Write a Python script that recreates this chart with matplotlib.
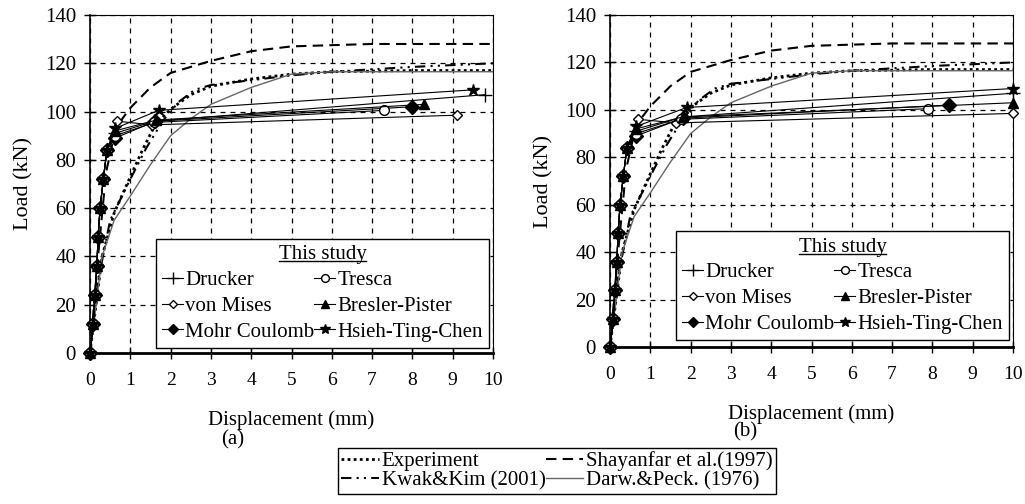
import matplotlib
matplotlib.use('Agg')
import matplotlib.pyplot as plt
from matplotlib.lines import Line2D

plt.rcParams['font.family'] = ['Liberation Serif', 'DejaVu Serif']

# Reference curves (same in both panels)
EXP_DISP = [0, 0.3, 0.6, 1.0, 1.3, 1.6, 2.0, 2.5, 3.0, 4.0, 5.0, 6.0, 8.0, 10]
EXP_LOAD = [0, 40, 58, 73, 84, 94, 101, 107, 110.5, 113.5, 115.5, 116.5, 117, 117]

SHAY_DISP = [0, 0.2, 0.4, 0.6, 0.8, 1.0, 1.5, 2.0, 3.0, 4.0, 5.0, 7.0, 10]
SHAY_LOAD = [0, 40, 75, 90, 97, 101.5, 110, 116, 121, 125, 127, 128, 128]

KWAK_DISP = [0, 0.2, 0.5, 1.0, 1.4, 1.8, 2.2, 2.6, 3.0, 4.0, 5.0, 6.0, 8.0, 10]
KWAK_LOAD = [0, 30, 55, 72, 85, 96, 104, 109, 111, 113, 115, 116.5, 118.5, 120]

DARW_DISP = [0, 0.3, 0.6, 1.0, 1.5, 2.0, 2.5, 3.0, 4.0, 5.0, 6.0, 10]
DARW_LOAD = [0, 40, 55, 65, 78, 90, 97, 103, 110, 115.5, 116.5, 116.5]

# This study (FE) - common pre-peak points
FE_LOAD_PRE = [0, 12, 24, 36, 48, 60, 72, 84]
FE_DISP_PRE = [0, 0.08, 0.12, 0.17, 0.2, 0.25, 0.33, 0.42]

FE_NAMES = ['Drucker', 'von Mises', 'Mohr Coulomb',
            'Tresca', 'Bresler-Pister', 'Hsieh-Ting-Chen']
FE_MARKERS = ['+', 'D', 'D', 'o', '^', '*']
FE_FILLED = [True, False, True, False, True, True]
FE_MSIZE = [10, 5, 7, 7, 7, 9]

# tails per panel: displacement / load after the common part
A_TAIL_DISP = [[0.62, 1.6, 9.8], [0.68, 1.55, 9.1], [0.62, 1.62, 8.0],
               [0.62, 1.6, 7.3], [0.62, 1.65, 8.3], [0.62, 1.7, 9.5]]
A_TAIL_LOAD = [[91, 96, 107], [96, 94.5, 98.5], [89, 96, 102],
               [90, 95.5, 100.5], [92, 96.5, 103], [93, 100.5, 109]]

B_TAIL_DISP = [[0.65, 1.8, 10], [0.7, 1.65, 10], [0.65, 1.8, 8.4],
               [0.65, 1.75, 7.9], [0.65, 1.8, 10], [0.65, 1.9, 10]]
B_TAIL_LOAD = [[91, 97, 107], [96, 94.5, 98.5], [89, 96.5, 102],
               [90, 96, 100.5], [92, 97, 103], [93, 101, 109]]

W, H = 1025, 504
fig = plt.figure(figsize=(W / 100, H / 100), dpi=100)


def px_axes(x0, x1, y0, y1):
    return fig.add_axes([x0 / W, 1 - y1 / H, (x1 - x0) / W, (y1 - y0) / H])


def draw_panel(ax, tail_disp, tail_load, leg_anchor, xlab_pad):
    ax.plot(EXP_DISP, EXP_LOAD, color='black', ls=(0, (1, 1.2)), lw=2.0)
    ax.plot(SHAY_DISP, SHAY_LOAD, color='black', ls=(0, (5, 3)), lw=1.5)
    ax.plot(KWAK_DISP, KWAK_LOAD, color='black', ls=(0, (5, 2.5, 1, 2.5, 1, 2.5)), lw=1.5)
    ax.plot(DARW_DISP, DARW_LOAD, color='#666666', ls='-', lw=1.0)

    handles = []
    for i, name in enumerate(FE_NAMES):
        xs = FE_DISP_PRE + tail_disp[i]
        ys = FE_LOAD_PRE + tail_load[i]
        fc = 'black' if FE_FILLED[i] else 'white'
        h, = ax.plot(xs, ys, color='black', lw=0.8, marker=FE_MARKERS[i],
                     ms=FE_MSIZE[i], mfc=fc, mec='black', mew=1.0,
                     clip_on=False, zorder=3, label=name)
        handles.append(h)

    ax.set_xlim(0, 10)
    ax.set_ylim(0, 140)
    ax.set_xticks(range(0, 11))
    ax.set_yticks(range(0, 141, 20))
    ax.grid(True, color='black', ls=(0, (4, 4)), lw=0.9)
    ax.tick_params(direction='inout', length=8, width=1.0, colors='black')
    ax.tick_params(axis='x', pad=10, labelsize=14)
    ax.tick_params(axis='y', pad=6, labelsize=15)
    for s in ax.spines.values():
        s.set_linewidth(0.8)
    ax.spines['bottom'].set_linewidth(2.0)
    ax.spines['left'].set_linewidth(1.2)
    ax.set_xlabel('Displacement (mm)', fontsize=15, labelpad=xlab_pad)
    ax.set_ylabel('Load (kN)', fontsize=16, labelpad=8)

    leg = ax.legend(handles=handles, ncol=2, loc='lower right',
                    bbox_to_anchor=leg_anchor, title='This study',
                    fontsize=15, title_fontsize=15, fancybox=False,
                    edgecolor='black', framealpha=1, handlelength=1.0,
                    handletextpad=0.1, columnspacing=0.0, labelspacing=0.3,
                    borderpad=0.3, borderaxespad=0, markerscale=0.8)
    leg.get_frame().set_linewidth(1.0)
    return leg


ax_a = px_axes(90, 493, 15, 353)
leg_a = draw_panel(ax_a, A_TAIL_DISP, A_TAIL_LOAD, (0.99, 0.015), 15)
ax_b = px_axes(610, 1013, 15, 347)
leg_b = draw_panel(ax_b, B_TAIL_DISP, B_TAIL_LOAD, (0.99, 0.02), 15)

fig.text(233 / W, 1 - 440 / H, '(a)', ha='center', va='center', fontsize=15)
fig.text(745 / W, 1 - 432 / H, '(b)', ha='center', va='center', fontsize=15)

ref_handles = [
    Line2D([], [], color='black', ls=(0, (1, 1.2)), lw=2.0),
    Line2D([], [], color='black', ls=(0, (5, 2.5, 1, 2.5, 1, 2.5)), lw=1.5),
    Line2D([], [], color='black', ls=(0, (5, 3)), lw=1.5),
    Line2D([], [], color='#666666', ls='-', lw=1.0),
]
ref_labels = ['Experiment', 'Kwak&Kim (2001)',
              'Shayanfar et al.(1997)', 'Darw.&Peck. (1976)']
fleg = fig.legend(ref_handles, ref_labels, ncol=2, loc='upper left',
                  bbox_to_anchor=(338 / W, 1 - 448 / H), fontsize=15,
                  fancybox=False, edgecolor='black', framealpha=1,
                  handlelength=1.8, handletextpad=0.15, columnspacing=0.0,
                  labelspacing=0.0, borderpad=0.15, borderaxespad=0)
fleg.get_frame().set_linewidth(1.0)

# underline the legend titles
fig.canvas.draw()
inv = fig.transFigure.inverted()
for leg in (leg_a, leg_b):
    bb = leg.get_title().get_window_extent()
    (x0, y0), (x1, _) = inv.transform([(bb.x0, bb.y0), (bb.x1, bb.y1)])
    fig.add_artist(Line2D([x0, x1], [y0 + 3 / H, y0 + 3 / H], color='black',
                          lw=1.0, transform=fig.transFigure))

fig.savefig('out.png', dpi=100)
